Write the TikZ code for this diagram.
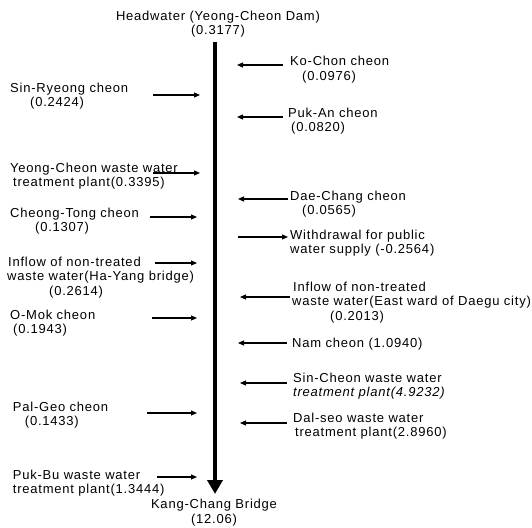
\documentclass[tikz,border=0pt]{standalone}
\usepackage{fontspec}
\setmainfont{Liberation Sans}[LetterSpace=6]
\usepackage{tikz}
\usetikzlibrary{positioning, calc, arrows.meta}

\newcommand{\ind}[1]{\hspace*{#1pt}}

\tikzset{
  lbl/.style={inner sep=0pt, align=left, anchor=base west,
    font=\fontsize{13}{14.5}\selectfont},
  ctr/.style={lbl, align=center, anchor=base},
  river/.style={line width=4pt, -{Triangle[width=15pt, length=14pt]}},
  branch/.style={line width=1.1pt, -{Triangle[width=5pt, length=6pt]}}
}

\begin{document}
\begin{tikzpicture}[x=1pt, y=-1pt]
        \useasboundingbox (0,0) rectangle (532,527);

        \coordinate (src) at (215,42);
        \coordinate (snk) at (215,494);

        % start and end of the river (base = last line)
        \node[ctr] (hw) at (218,35) {Headwater (Yeong-Cheon Dam)\\(0.3177)};
        \node[ctr] (kc) at (214,523) {Kang-Chang Bridge\\(12.06)};
        \draw[river] (src) -- (snk);

        % left bank
        \node[lbl] (sr) at (10,106.5)   {Sin-Ryeong cheon\\\ind{20}(0.2424)};
        \node[lbl] (yc) at (10,186.5)   {Yeong-Cheon waste water\\\ind{3}treatment plant(0.3395)};
        \node[lbl] (ct) at (10,231.5)   {Cheong-Tong cheon\\\ind{25}(0.1307)};
        \node[lbl] (hy) at (7,295)      {\ind{1}Inflow of non-treated\\waste water(Ha-Yang bridge)\\\ind{42}(0.2614)};
        \node[lbl] (om) at (10,333.5)   {O-Mok cheon\\\ind{3}(0.1943)};
        \node[lbl] (pg) at (12.7,425.5) {Pal-Geo cheon\\\ind{12}(0.1433)};
        \node[lbl] (pb) at (12.7,493.5) {Puk-Bu waste water\\treatment plant(1.3444)};

        % right bank
        \node[lbl] (ko) at (290,80.5)  {Ko-Chon cheon\\\ind{12}(0.0976)};
        \node[lbl] (pa) at (288,131.5) {Puk-An cheon\\\ind{3}(0.0820)};
        \node[lbl] (dc) at (290,214.5) {Dae-Chang cheon\\\ind{12}(0.0565)};
        \node[lbl] (wd) at (290,253.5) {Withdrawal for public\\water supply (-0.2564)};
        \node[lbl] (ew) at (292,320)   {\ind{1}Inflow of non-treated\\waste water(East ward of Daegu city)\\\ind{38}(0.2013)};
        \node[lbl] (nm) at (292,347)   {Nam cheon (1.0940)};
        \node[lbl] (sc) at (293,396.5) {Sin-Cheon waste water\\\textit{treatment plant(4.9232)}};
        \node[lbl] (ds) at (293,436.5) {Dal-seo waste water\\\ind{2}treatment plant(2.8960)};

        % inflows from the left
        \foreach \y/\a/\b in {95/153/200, 173/153/200, 217/150/197, 263/155/197,
                             318/152/197, 413/147/197, 477/157/197}
          \draw[branch] (\a,\y) -- (\b,\y);

        % inflows from the right
        \foreach \y/\a/\b in {65/283/237, 117/283/237, 199/288/238, 297/290/240,
                             343/287/238, 383/287/240, 423/287/240}
          \draw[branch] (\a,\y) -- (\b,\y);

        % withdrawal
        \draw[branch] (238,237) -- (288,237);
      \end{tikzpicture}
\end{document}
